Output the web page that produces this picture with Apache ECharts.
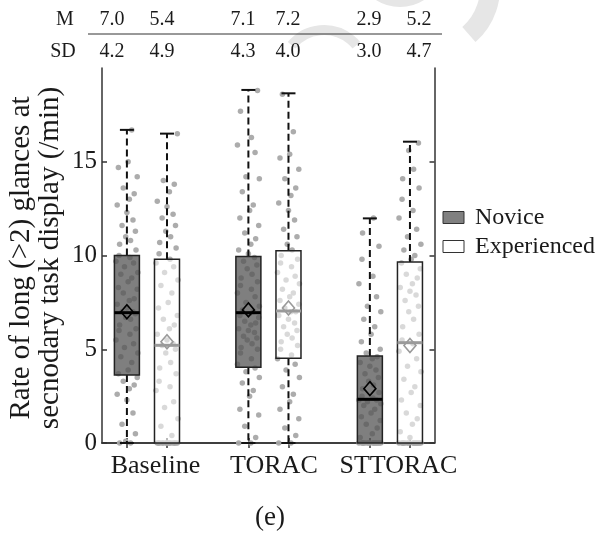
<!DOCTYPE html>
<html>
<head>
<meta charset="utf-8">
<title>Long glances at secondary task display</title>
<script src="https://cdn.jsdelivr.net/npm/echarts@6/dist/echarts.min.js"></script>
<style>
  html, body { margin: 0; padding: 0; background: #fff; }
  #chart { width: 600px; height: 534px; }
</style>
</head>
<body>
<div id="chart"></div>
<script>
// Conditions on the x axis and the two driver groups
const categories = ['Baseline', 'TORAC', 'STTORAC'];
const groups = ['Novice', 'Experienced'];

// Box statistics per condition (rate of long glances, /min)
const noviceLow = [0, 0, 0];
const noviceQ1 = [3.63, 4.04, 0];
const noviceMedian = [6.95, 6.95, 2.33];
const noviceQ3 = [10.0, 9.95, 4.64];
const noviceHigh = [16.7, 18.83, 11.98];
const noviceMean = [7.0, 7.1, 2.9];
const noviceSD = [4.2, 4.3, 3.0];

const experiencedLow = [0, 0, 0];
const experiencedQ1 = [0, 4.52, 0];
const experiencedMedian = [5.21, 7.04, 5.35];
const experiencedQ3 = [9.8, 10.26, 9.65];
const experiencedHigh = [16.5, 18.65, 16.07];
const experiencedMean = [5.4, 7.2, 5.2];
const experiencedSD = [4.9, 4.0, 4.7];

// Individual participant rates
const baselineNovice = [0, 0, 0.1, 0.5, 1.0, 1.6, 2.3, 2.6, 2.9, 3.1, 3.3, 3.5, 3.7, 3.9, 4.3, 4.6, 4.8, 5.1, 5.3, 5.5, 5.8, 6.0, 6.1, 6.3, 6.6, 6.7, 6.9, 7.0, 7.0, 7.2, 7.4, 7.6, 7.7, 8.0, 8.2, 8.3, 8.6, 8.8, 9.0, 9.1, 9.4, 9.6, 9.7, 9.9, 10.0, 10.3, 10.6, 10.8, 11.0, 11.3, 11.6, 11.9, 12.3, 12.7, 13.0, 13.3, 13.6, 14.2, 14.7, 15.0, 16.7];
const baselineExperienced = [0, 0, 0, 0, 0, 0, 0, 0, 0, 0, 0, 0, 0, 0, 0.4, 0.9, 1.3, 1.9, 2.2, 2.8, 3.0, 3.3, 3.7, 4.0, 4.3, 4.8, 5.0, 5.2, 5.3, 5.5, 5.8, 6.1, 6.3, 6.6, 6.8, 7.2, 7.5, 8.0, 8.4, 8.7, 9.1, 9.4, 9.6, 9.8, 10.1, 10.4, 10.7, 11.0, 11.3, 11.6, 12.0, 12.2, 12.6, 12.9, 13.4, 13.8, 14.0, 16.5];
const toracNovice = [0, 0, 0.3, 0.9, 1.5, 1.8, 2.5, 2.8, 3.2, 3.5, 3.8, 4.0, 4.2, 4.5, 4.8, 5.0, 5.1, 5.3, 5.5, 5.6, 5.7, 5.9, 6.0, 6.1, 6.3, 6.4, 6.5, 6.7, 6.8, 6.9, 7.0, 7.1, 7.3, 7.5, 7.8, 8.0, 8.2, 8.4, 8.6, 8.8, 9.0, 9.3, 9.5, 9.7, 9.9, 10.1, 10.3, 10.6, 10.9, 11.2, 11.6, 12.0, 12.4, 12.7, 13.4, 14.1, 14.2, 15.5, 15.9, 16.3, 17.7, 18.8];
const toracExperienced = [0, 0, 0.4, 0.8, 1.3, 1.8, 2.2, 2.6, 3.0, 3.5, 3.9, 4.2, 4.5, 4.7, 5.0, 5.2, 5.4, 5.6, 5.8, 6.0, 6.2, 6.4, 6.6, 6.8, 7.0, 7.0, 7.2, 7.4, 7.6, 7.8, 8.0, 8.2, 8.5, 8.7, 8.9, 9.1, 9.4, 9.6, 9.8, 10.0, 10.3, 10.6, 11.0, 11.4, 11.9, 12.4, 12.8, 13.2, 13.6, 14.1, 14.6, 15.2, 15.4, 16.6, 18.6];
const sttoracNovice = [0, 0, 0, 0, 0, 0, 0, 0, 0, 0, 0, 0, 0, 0, 0, 0, 0.3, 0.5, 0.8, 1.0, 1.2, 1.4, 1.6, 1.8, 2.0, 2.1, 2.2, 2.3, 2.3, 2.4, 2.5, 2.7, 2.9, 3.1, 3.3, 3.5, 3.7, 3.9, 4.1, 4.3, 4.5, 4.6, 4.8, 5.0, 5.4, 5.8, 6.2, 6.6, 7.0, 7.3, 7.8, 8.5, 8.9, 9.8, 10.5, 11.2, 12.0];
const sttoracExperienced = [0, 0, 0, 0, 0, 0, 0, 0, 0, 0, 0, 0, 0, 0, 0, 0.3, 0.6, 1.0, 1.3, 1.6, 2.0, 2.3, 2.7, 3.0, 3.4, 3.8, 4.1, 4.5, 4.9, 5.3, 5.5, 5.8, 6.2, 6.6, 7.0, 7.3, 7.6, 7.9, 8.1, 8.3, 8.5, 8.8, 9.0, 9.3, 9.6, 9.8, 10.0, 10.3, 10.6, 11.0, 11.4, 12.0, 12.4, 13.0, 13.6, 14.1, 14.6, 15.6, 16.0];

// Y axis tick labels
const yTicks = [0, 5, 10, 15];

// Layout: group centre at 1, 2, 3; boxes either side of it
const boxOffset = [-0.165, 0.165];
// Category labels sit a little right of the group centres
const labelAt = [1.07, 2.045, 3.07];
// Horizontal jitter for the raw points (axis units)
const jitter = [-0.06, 0.03, -0.01, 0.07, -0.04, 0.05, 0.0, -0.08, 0.02, 0.06, -0.03, 0.085, -0.07, 0.01, 0.04, -0.05, 0.09, -0.02, 0.055, -0.09, 0.025, -0.065, 0.075];

const FONT = 'Liberation Serif';
const TEXT = '#1a1a1a';

const rawPoints = [
  [baselineNovice, toracNovice, sttoracNovice],
  [baselineExperienced, toracExperienced, sttoracExperienced]
];
const stats = [
  [noviceLow, noviceQ1, noviceMedian, noviceQ3, noviceHigh, noviceMean],
  [experiencedLow, experiencedQ1, experiencedMedian, experiencedQ3, experiencedHigh, experiencedMean]
];

function scatterData(g) {
  const out = [];
  rawPoints[g].forEach((vals, c) => {
    const cx = c + 1 + boxOffset[g];
    vals.forEach((v, i) => out.push([cx + jitter[(i + c * 7) % jitter.length], v]));
  });
  return out;
}
function boxData(g) {
  return categories.map((_, c) => [c + 1 + boxOffset[g]].concat(stats[g].map(a => a[c])));
}

const boxStyles = [
  { fill: 'rgba(82,82,82,0.74)', median: '#000', diamond: '#000' },
  { fill: 'rgba(255,255,255,0.55)', median: '#9a9a9a', diamond: '#9a9a9a' }
];

function makeRender(g) {
  const st = boxStyles[g];
  return function (params, api) {
    const x = api.value(0);
    const P = k => api.coord([x, api.value(k)]);
    const low = P(1), q1 = P(2), med = P(3), q3 = P(4), high = P(5), mean = P(6);
    const cx = low[0];
    const hw = 12.5, cap = 7;
    const kids = [];
    const dash = { stroke: '#111', lineWidth: 2, lineDash: [7, 4] };
    kids.push({ type: 'line', shape: { x1: cx, y1: q3[1], x2: cx, y2: high[1] }, style: dash });
    kids.push({ type: 'line', shape: { x1: cx - cap, y1: high[1], x2: cx + cap, y2: high[1] }, style: { stroke: '#111', lineWidth: 2 } });
    if (api.value(1) < api.value(2)) {
      kids.push({ type: 'line', shape: { x1: cx, y1: q1[1], x2: cx, y2: low[1] }, style: dash });
      kids.push({ type: 'line', shape: { x1: cx - cap, y1: low[1], x2: cx + cap, y2: low[1] }, style: { stroke: '#111', lineWidth: 2 } });
    }
    kids.push({ type: 'rect', shape: { x: cx - hw, y: q3[1], width: hw * 2, height: q1[1] - q3[1] },
      style: { fill: st.fill, stroke: '#222', lineWidth: 1.5 } });
    kids.push({ type: 'line', shape: { x1: cx - hw, y1: med[1], x2: cx + hw, y2: med[1] },
      style: { stroke: st.median, lineWidth: 3 } });
    kids.push({ type: 'polygon', shape: { points: [[cx, mean[1] - 7], [cx + 6, mean[1]], [cx, mean[1] + 7], [cx - 6, mean[1]]] },
      style: { fill: 'none', stroke: st.diamond, lineWidth: 1.6 } });
    return { type: 'group', children: kids };
  };
}

const boxCentres = [];
categories.forEach((_, c) => boxOffset.forEach(o => boxCentres.push(c + 1 + o)));

// Faint background emblem behind the header
const emblem = { stroke: '#e6e6e6', fill: 'none', lineCap: 'butt' };
const graphics = [
  { type: 'arc', z: -10, shape: { cx: 428, cy: -12, r: 62, startAngle: -0.2, endAngle: 0.85 }, style: Object.assign({ lineWidth: 20 }, emblem) },
  { type: 'arc', z: -10, shape: { cx: 324, cy: 72, r: 42, startAngle: Math.PI * 1.22, endAngle: Math.PI * 1.78 }, style: Object.assign({ lineWidth: 10 }, emblem) },
  { type: 'arc', z: -10, shape: { cx: 400, cy: -38, r: 40, startAngle: Math.PI * 0.3, endAngle: Math.PI * 0.7 }, style: Object.assign({ lineWidth: 10 }, emblem) }
];

// Summary table above the plot
const tableMeans = [], tableSDs = [];
categories.forEach((_, c) => {
  tableMeans.push(noviceMean[c], experiencedMean[c]);
  tableSDs.push(noviceSD[c], experiencedSD[c]);
});
const tableX = [112, 162, 243, 288, 369, 419];
const tableFont = '20px "' + FONT + '"';
graphics.push(
  { type: 'text', x: 65, y: 20, style: { text: 'M', font: tableFont, fill: TEXT, align: 'center', verticalAlign: 'middle' } },
  { type: 'text', x: 63, y: 52, style: { text: 'SD', font: tableFont, fill: TEXT, align: 'center', verticalAlign: 'middle' } },
  { type: 'line', shape: { x1: 88, y1: 34, x2: 442, y2: 34 }, style: { stroke: '#333', lineWidth: 1 } }
);
tableMeans.forEach((v, i) => graphics.push({ type: 'text', x: tableX[i], y: 20,
  style: { text: v.toFixed(1), font: tableFont, fill: TEXT, align: 'center', verticalAlign: 'middle' } }));
tableSDs.forEach((v, i) => graphics.push({ type: 'text', x: tableX[i], y: 52,
  style: { text: v.toFixed(1), font: tableFont, fill: TEXT, align: 'center', verticalAlign: 'middle' } }));

// Y axis title
graphics.push({ type: 'text', x: 36, y: 258, rotation: Math.PI / 2,
  style: { text: 'Rate of long (>2) glances at\nsecnodary task display (/min)', font: '29px "' + FONT + '"',
    lineHeight: 29, fill: TEXT, align: 'center', verticalAlign: 'middle' } });

// Legend
const legendFill = ['#808080', '#ffffff'];
groups.forEach((name, i) => {
  const cy = 217.5 + i * 29;
  graphics.push({ type: 'rect', shape: { x: 443, y: cy - 6, width: 21, height: 12 }, style: { fill: legendFill[i], stroke: '#333', lineWidth: 1 } });
  graphics.push({ type: 'text', x: 475, y: cy, style: { text: name, font: '24px "' + FONT + '"', fill: TEXT, align: 'left', verticalAlign: 'middle' } });
});

// Panel caption
graphics.push({ type: 'text', x: 270, y: 518, style: { text: '(e)', font: '27px "' + FONT + '"', fill: TEXT, align: 'center', verticalAlign: 'middle' } });

const chart = echarts.init(document.getElementById('chart'), null, { renderer: 'canvas' });
const axisLineStyle = { color: '#333', width: 1.5 };
chart.setOption({
  animation: false,
  backgroundColor: '#fff',
  grid: { left: 102, right: 165.5, top: 68, bottom: 91, show: false },
  xAxis: [
    {
      type: 'value', position: 'bottom', min: 0.63, max: 3.367,
      splitLine: { show: false },
      axisLine: { show: true, lineStyle: axisLineStyle },
      axisTick: { show: true, inside: true, length: 5, customValues: boxCentres, lineStyle: axisLineStyle },
      axisLabel: { show: true, customValues: labelAt, formatter: v => categories[Math.round(v) - 1],
        fontFamily: FONT, fontSize: 26, color: TEXT, margin: 10 }
    },
    {
      type: 'value', position: 'top', min: 0.63, max: 3.367,
      splitLine: { show: false },
      axisLine: { show: true, lineStyle: axisLineStyle },
      axisTick: { show: true, inside: true, length: 5, customValues: boxCentres, lineStyle: axisLineStyle },
      axisLabel: { show: false }
    }
  ],
  yAxis: [
    {
      type: 'value', position: 'left', min: 0, max: 20, interval: 5,
      splitLine: { show: false },
      axisLine: { show: true, lineStyle: axisLineStyle },
      axisTick: { show: true, inside: true, length: 5, customValues: yTicks, lineStyle: axisLineStyle },
      axisLabel: { customValues: yTicks, fontFamily: FONT, fontSize: 25, color: TEXT, margin: 5 }
    },
    {
      type: 'value', position: 'right', min: 0, max: 20, interval: 5,
      splitLine: { show: false },
      axisLine: { show: true, lineStyle: axisLineStyle },
      axisTick: { show: true, inside: true, length: 5, customValues: yTicks, lineStyle: axisLineStyle },
      axisLabel: { show: false }
    }
  ],
  series: [
    { name: 'Novice points', type: 'scatter', data: scatterData(0), symbolSize: 5.5,
      itemStyle: { color: '#a8a8a8', opacity: 0.95 }, silent: true, z: 2 },
    { name: 'Experienced points', type: 'scatter', data: scatterData(1), symbolSize: 5.5,
      itemStyle: { color: '#a8a8a8', opacity: 0.95 }, silent: true, z: 2 },
    { name: 'Novice', type: 'custom', data: boxData(0), renderItem: makeRender(0),
      encode: { x: 0, y: [1, 2, 3, 4, 5, 6] }, z: 3, silent: true },
    { name: 'Experienced', type: 'custom', data: boxData(1), renderItem: makeRender(1),
      encode: { x: 0, y: [1, 2, 3, 4, 5, 6] }, z: 3, silent: true }
  ],
  graphic: graphics
});
</script>
</body>
</html>
